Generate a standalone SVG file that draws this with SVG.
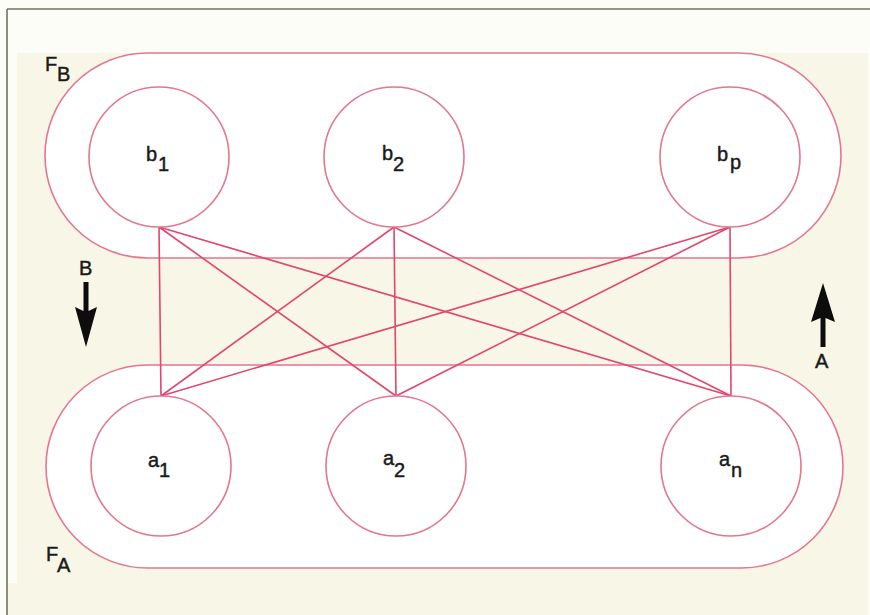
<svg xmlns="http://www.w3.org/2000/svg" width="870" height="615" viewBox="0 0 870 615">
  <style>
    .stad { fill: #ffffff; stroke: #e4768f; stroke-width: 1.6; }
    .node { fill: #ffffff; stroke: #e2778f; stroke-width: 1.6; }
    .conn { stroke: #e2456f; stroke-width: 1.6; fill: none; }
    .lbl { font-family: "Liberation Sans", Arial, sans-serif; font-size: 20px; fill: #1a1a1a; stroke: #1a1a1a; stroke-width: 0.45; }
    .arrow { fill: #0d0d0d; }
  </style>
  <!-- page background -->
  <rect x="0" y="0" width="870" height="615" fill="#fdfdf8"/>
  <rect x="17" y="53" width="851" height="562" fill="#f8f6e6"/>
  <rect x="7" y="583" width="10" height="32" fill="#f8f6e6"/>
  <!-- frame -->
  <g id="frame" stroke="#70735f" stroke-width="1.6" fill="none">
    <line x1="7" y1="9" x2="870" y2="9"/>
    <line x1="7" y1="9" x2="7" y2="615"/>
  </g>

  <!-- layer stadiums -->
  <g id="FB">
    <rect class="stad" x="45" y="53" width="796" height="205" rx="102.5" ry="102.5"/>
    <text class="lbl" x="45" y="71">F</text>
    <text class="lbl" x="57" y="81">B</text>
  </g>
  <g id="FA">
    <rect class="stad" x="46" y="365" width="797" height="203" rx="101.5" ry="101.5"/>
    <text class="lbl" x="46" y="561">F</text>
    <text class="lbl" x="57" y="572">A</text>
  </g>

  <!-- connectors -->
  <g id="connectors" class="conn">
    <line x1="159" y1="227" x2="161" y2="396"/>
    <line x1="159" y1="227" x2="396" y2="396"/>
    <line x1="159" y1="227" x2="731" y2="396"/>
    <line x1="394" y1="227" x2="161" y2="396"/>
    <line x1="394" y1="227" x2="396" y2="396"/>
    <line x1="394" y1="227" x2="731" y2="396"/>
    <line x1="730" y1="227" x2="161" y2="396"/>
    <line x1="730" y1="227" x2="396" y2="396"/>
    <line x1="730" y1="227" x2="731" y2="396"/>
  </g>

  <!-- nodes -->
  <g id="b1">
    <circle class="node" cx="159" cy="157" r="70"/>
    <text class="lbl" x="146" y="161">b</text>
    <text class="lbl" x="158" y="171">1</text>
  </g>
  <g id="b2">
    <circle class="node" cx="394" cy="157" r="70"/>
    <text class="lbl" x="382" y="160">b</text>
    <text class="lbl" x="393" y="171">2</text>
  </g>
  <g id="bp">
    <circle class="node" cx="730" cy="157" r="70"/>
    <text class="lbl" x="717" y="161">b</text>
    <text class="lbl" x="730" y="169">p</text>
  </g>
  <g id="a1">
    <circle class="node" cx="161" cy="466" r="70"/>
    <text class="lbl" x="148" y="467">a</text>
    <text class="lbl" x="159" y="477">1</text>
  </g>
  <g id="a2">
    <circle class="node" cx="396" cy="466" r="70"/>
    <text class="lbl" x="383" y="465">a</text>
    <text class="lbl" x="394" y="477">2</text>
  </g>
  <g id="an">
    <circle class="node" cx="731" cy="466" r="70"/>
    <text class="lbl" x="719" y="466">a</text>
    <text class="lbl" x="731" y="477">n</text>
  </g>

  <!-- direction arrows -->
  <g id="arrowB">
    <text class="lbl" x="79" y="275">B</text>
    <path class="arrow" d="M83.5,282 H88.5 V311 L97,307 L86,347 L75,307 L83.5,311 Z"/>
  </g>
  <g id="arrowA">
    <path class="arrow" d="M823,283 L835,322 L825.5,318 V347 H820.5 V318 L811,322 Z"/>
    <text class="lbl" x="815" y="368">A</text>
  </g>
</svg>
